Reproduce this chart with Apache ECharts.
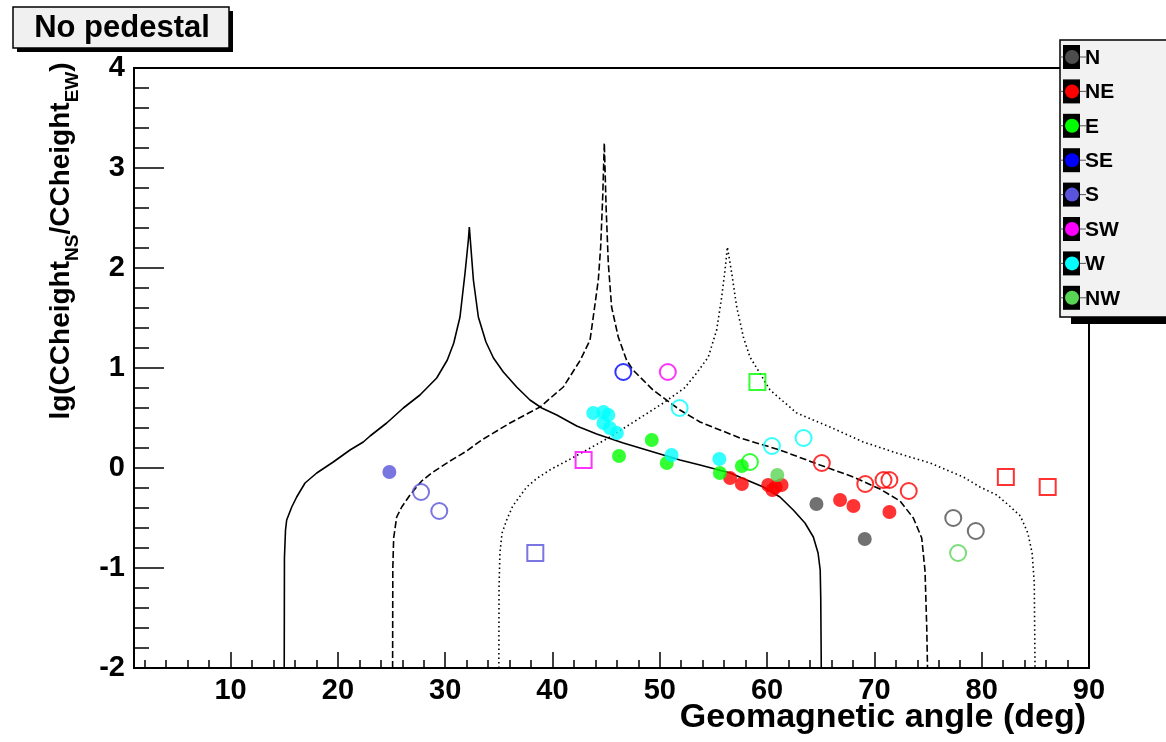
<!DOCTYPE html>
<html><head><meta charset="utf-8">
<script src="https://cdn.jsdelivr.net/npm/echarts@6/dist/echarts.min.js"></script>
<style>html,body{margin:0;padding:0;background:#fff}#c{width:1166px;height:742px}</style>
</head><body><div id="c"></div>
<script>
// ---- data ----
const categories = ['N','NE','E','SE','S','SW','W','NW'];
const xTickValues = [10,20,30,40,50,60,70,80,90];
const xTickLabels = ['10','20','30','40','50','60','70','80','90'];
const xMinorTicks = [2,4,6,8,12,14,16,18,22,24,26,28,32,34,36,38,42,44,46,48,52,54,56,58,62,64,66,68,72,74,76,78,82,84,86,88];

const N_filled  = [[64.6,-0.36],[69.1,-0.71]];
const N_open    = [[77.35,-0.50],[79.45,-0.63]];
const N_square  = [];
const NE_filled = [[56.55,-0.10],[57.65,-0.16],[60.1,-0.17],[60.5,-0.22],[60.8,-0.19],[61.35,-0.17],[66.8,-0.32],[68.05,-0.38],[71.4,-0.44]];
const NE_open   = [[65.1,0.05],[69.15,-0.16],[70.85,-0.12],[71.4,-0.12],[73.2,-0.23]];
const NE_square = [[82.25,-0.09],[86.15,-0.19]];
const E_filled  = [[46.2,0.12],[49.25,0.28],[50.65,0.05],[55.6,-0.05],[57.65,0.02]];
const E_open    = [[58.4,0.06]];
const E_square  = [[59.1,0.86]];
const SE_filled = [];
const SE_open   = [[46.6,0.96]];
const SE_square = [];
const S_filled  = [[24.8,-0.04]];
const S_open    = [[27.75,-0.24],[29.45,-0.43]];
const S_square  = [[38.4,-0.85]];
const SW_filled = [];
const SW_open   = [[50.75,0.96]];
const SW_square = [[42.9,0.08]];
const W_filled  = [[43.8,0.55],[44.75,0.56],[45.2,0.53],[44.75,0.45],[45.35,0.40],[46.0,0.35],[51.1,0.13],[55.55,0.09]];
const W_open    = [[51.85,0.60],[60.45,0.22],[63.4,0.30]];
const W_square  = [];
const NW_filled = [[60.95,-0.07]];
const NW_open   = [[77.8,-0.85]];
const NW_square = [];

const curveSolid = [[15.0,-2.0],[15.02,-0.9],[15.12,-0.62],[15.23,-0.52],[15.70,-0.39],[16.16,-0.29],[16.94,-0.15],[18.03,-0.05],[19.57,0.06],[21.13,0.18],[22.37,0.26],[23.0,0.32],[24.55,0.45],[26.1,0.60],[27.65,0.73],[29.21,0.90],[30.2,1.08],[30.8,1.25],[31.38,1.51],[31.85,1.95],[32.16,2.28],[32.25,2.41],[32.63,1.88],[33.09,1.51],[33.8,1.26],[34.5,1.10],[35.42,0.96],[36.66,0.81],[37.9,0.68],[39.0,0.60],[40.4,0.53],[42.26,0.42],[44.12,0.34],[46.6,0.25],[49.71,0.15],[51.88,0.08],[53.75,0.03],[56.55,-0.05],[59.65,-0.19],[61.2,-0.29],[62.44,-0.42],[63.53,-0.55],[64.31,-0.69],[64.75,-0.85],[64.95,-1.02],[65.0,-1.3],[65.05,-2.0]];
const curveDashed = [[25.1,-2.0],[25.12,-1.0],[25.2,-0.7],[25.48,-0.49],[25.95,-0.39],[26.72,-0.27],[27.81,-0.13],[28.74,-0.05],[30.45,0.07],[32.0,0.17],[33.4,0.28],[36.04,0.45],[38.84,0.61],[41.01,0.81],[42.6,1.08],[43.5,1.28],[43.8,1.51],[44.27,1.88],[44.49,2.21],[44.68,2.71],[44.83,3.25],[45.0,2.6],[45.2,2.05],[45.51,1.61],[46.13,1.31],[46.9,1.08],[47.5,0.98],[49.37,0.78],[51.88,0.58],[53.75,0.46],[57.48,0.30],[61.2,0.18],[64.93,0.03],[68.04,-0.09],[70.52,-0.21],[72.39,-0.33],[73.63,-0.50],[74.41,-0.70],[74.72,-1.03],[74.88,-1.6],[74.95,-2.0]];
const curveDotted = [[35.0,-2.0],[35.02,-1.2],[35.1,-0.85],[35.3,-0.65],[35.73,-0.52],[36.3,-0.38],[37.6,-0.19],[38.6,-0.10],[39.9,-0.01],[41.32,0.07],[43.19,0.18],[45.36,0.31],[47.85,0.48],[50.33,0.65],[52.3,0.80],[53.44,0.95],[54.52,1.11],[55.3,1.38],[55.77,1.71],[56.08,1.98],[56.3,2.21],[56.7,1.95],[57.17,1.61],[57.79,1.31],[58.4,1.11],[59.03,1.0],[60.27,0.78],[62.76,0.55],[65.86,0.41],[68.97,0.26],[72.08,0.15],[75.18,0.05],[78.29,-0.09],[79.84,-0.19],[81.4,-0.27],[82.5,-0.37],[83.6,-0.48],[84.3,-0.65],[84.7,-0.85],[84.9,-1.15],[84.97,-2.0]];

const titleText = 'No pedestal';
const xTitle = 'Geomagnetic angle (deg)';

// ---- styles ----
const catColors = ['#4d4d4d','#ff0000','#00ff00','#0000ff','#5954d9','#ff00ff','#00ffff','#59d454'];
const filledSets = [N_filled,NE_filled,E_filled,SE_filled,S_filled,SW_filled,W_filled,NW_filled];
const openSets = [N_open,NE_open,E_open,SE_open,S_open,SW_open,W_open,NW_open];
const squareSets = [N_square,NE_square,E_square,SE_square,S_square,SW_square,W_square,NW_square];
const FONT = '"Liberation Sans", Arial, Helvetica, sans-serif';

const series = [];
[[curveSolid,'solid'],[curveDashed,[7,3]],[curveDotted,[1.5,3]]].forEach(([d,t])=>{
  series.push({type:'line', data:d, showSymbol:false, symbol:'none', z:2, silent:true,
    lineStyle:{color:'#000', width:1.6, type:t}, animation:false});
});
categories.forEach((c,i)=>{
  if (squareSets[i].length) series.push({type:'scatter', name:c+' sq', data:squareSets[i], symbol:'rect', symbolSize:16, z:3,
    itemStyle:{color:'rgba(0,0,0,0)', borderColor:catColors[i], borderWidth:2}, animation:false});
  if (openSets[i].length) series.push({type:'scatter', name:c+' open', data:openSets[i], symbol:'circle', symbolSize:16, z:3,
    itemStyle:{color:'rgba(0,0,0,0)', borderColor:catColors[i], borderWidth:2}, animation:false});
});
categories.forEach((c,i)=>{
  if (filledSets[i].length) series.push({type:'scatter', name:c, data:filledSets[i], symbol:'circle', symbolSize:14, z:4,
    itemStyle:{color:catColors[i]}, animation:false});
});

// legend graphics
const legendEls = [
  {type:'rect', shape:{x:1071,y:46,width:120,height:278}, style:{fill:'#000'}, z:100},
  {type:'rect', shape:{x:1060,y:40,width:120,height:277}, style:{fill:'#f2f2f2', stroke:'#000', lineWidth:1.5}, z:101}
];
categories.forEach((c,i)=>{
  const cy = 57 + i*34.4;
  legendEls.push({type:'line', shape:{x1:1060,y1:cy,x2:1086,y2:cy}, style:{stroke:'#555', lineWidth:1}, z:102});
  legendEls.push({type:'rect', shape:{x:1063,y:cy-12,width:17,height:24}, style:{fill:'#000'}, z:103});
  legendEls.push({type:'circle', shape:{cx:1072,cy:cy,r:7}, style:{fill:catColors[i]}, z:104});
  legendEls.push({type:'text', x:1085, y:cy+1, style:{text:c, font:'bold 21px '+FONT, fill:'#000', align:'left', verticalAlign:'middle'}, z:104});
});

const option = {
  backgroundColor:'#fff',
  animation:false,
  grid:{left:134, right:77, top:68, bottom:74, show:true, borderColor:'#000', borderWidth:2, backgroundColor:'#fff', containLabel:false, outerBoundsMode:'none'},
  xAxis:[{
    type:'value', min:1, max:90,
    axisLine:{show:true, onZero:false, lineStyle:{color:'#000', width:2}},
    axisTick:{show:true, inside:true, length:16, customValues:xTickValues, lineStyle:{color:'#000', width:1.5}},
    axisLabel:{show:true, customValues:xTickValues, margin:8, color:'#000', fontFamily:FONT, fontWeight:'bold', fontSize:29,
      formatter:(v)=>{const k=xTickValues.indexOf(v); return k>=0?xTickLabels[k]:'';}},
    splitLine:{show:false}
  },{
    type:'value', min:1, max:90, gridIndex:0, position:'bottom',
    axisLine:{show:false, onZero:false},
    axisTick:{show:true, inside:true, length:8, customValues:xMinorTicks, lineStyle:{color:'#000', width:1.5}},
    axisLabel:{show:false}, splitLine:{show:false}
  }],
  yAxis:{
    type:'value', min:-2, max:4, interval:1,
    axisLine:{show:true, onZero:false, lineStyle:{color:'#000', width:2}},
    axisTick:{show:true, inside:true, length:30, lineStyle:{color:'#000', width:1.5}},
    minorTick:{show:true, splitNumber:5, length:15, lineStyle:{color:'#000', width:1.5}},
    axisLabel:{margin:9, color:'#000', fontFamily:FONT, fontWeight:'bold', fontSize:29},
    splitLine:{show:false}, minorSplitLine:{show:false}
  },
  series:series,
  graphic:[
    {type:'rect', shape:{x:17,y:11,width:216,height:41}, style:{fill:'#000'}, z:100},
    {type:'rect', shape:{x:13,y:7,width:216,height:41}, style:{fill:'#f0f0f0', stroke:'#000', lineWidth:1.5}, z:101},
    {type:'text', x:122, y:28, style:{text:titleText, font:'bold 31px '+FONT, fill:'#000', align:'center', verticalAlign:'middle'}, z:102},
    {type:'text', x:1086, y:718, style:{text:xTitle, font:'bold 34px '+FONT, fill:'#000', align:'right', verticalAlign:'middle'}, z:102},
    {type:'text', x:61, y:241, rotation:Math.PI/2, z:102,
      style:{text:'{m|lg(CCheight}{s|NS}{m|/CCheight}{s|EW}{m|)}', fill:'#000', align:'center', verticalAlign:'middle',
        rich:{m:{font:'bold 28px '+FONT, fill:'#000'}, s:{font:'bold 19px '+FONT, fill:'#000', padding:[24,0,0,0]}}}},
    ...legendEls
  ]
};
const chart = echarts.init(document.getElementById('c'), null, {renderer:'canvas'});
chart.setOption(option);
</script>
</body></html>
